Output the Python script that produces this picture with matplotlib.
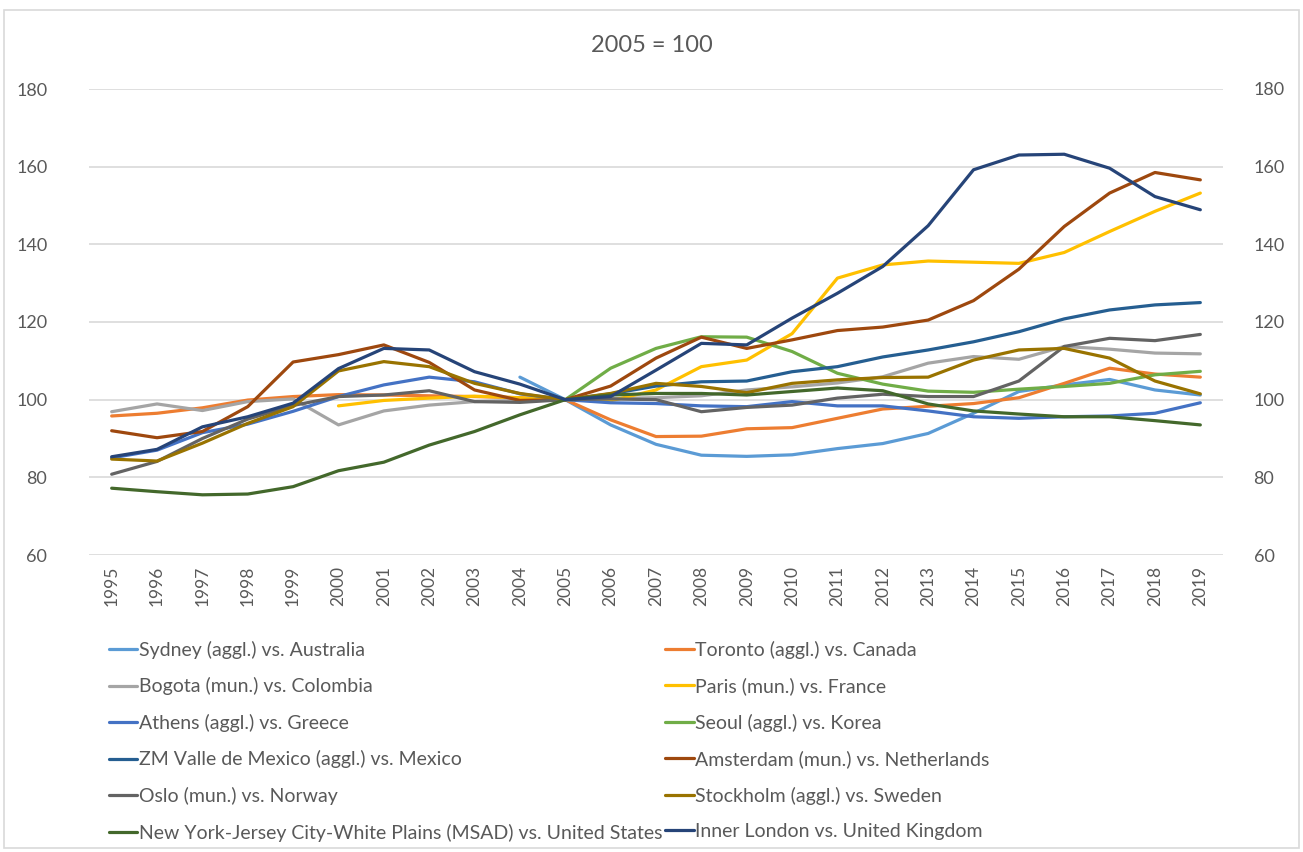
import matplotlib
matplotlib.use("Agg")
import matplotlib.pyplot as plt
from matplotlib.patches import Rectangle
import numpy as np

nan = np.nan
years = [str(y) for y in range(1995, 2020)]

sydney = [nan] * 9 + [105.8, 100, 93.5, 88.5, 85.7, 85.4, 85.8, 87.4, 88.7, 91.3,
                      96.5, 102.1, 103.8, 105.2, 102.5, 101.2]
toronto = [95.8, 96.5, 97.9, 99.9, 100.8, 101.3, 101.2, 101.0, 100.8, 100.5, 100,
           94.8, 90.5, 90.6, 92.5, 92.8, 95.2, 97.6, 98.3, 99.0, 100.5, 104.2, 108.1, 106.6, 105.8]
bogota = [96.9, 98.9, 97.2, 99.5, 100.2, 93.5, 97.1, 98.6, 99.5, 99.8, 100,
          100.3, 100.5, 101.0, 102.5, 103.3, 104.3, 105.9, 109.4, 111.1, 110.4, 113.7, 113.0, 112.0, 111.8]
paris = [nan] * 5 + [98.4, 99.8, 100.4, 100.9, 100.5, 100,
                     99.7, 102.5, 108.5, 110.2, 117.0, 131.3, 134.7, 135.7, 135.4, 135.1, 137.9, 143.3, 148.5, 153.2]
athens = [85.0, 87.0, 91.5, 93.7, 97.0, 100.8, 103.8, 105.8, 104.6, 101.5, 100,
          99.2, 99.0, 98.4, 98.2, 99.5, 98.4, 98.4, 97.1, 95.6, 95.2, 95.6, 95.8, 96.5, 99.2]
seoul = [nan] * 10 + [100, 108.1, 113.2, 116.2, 116.1, 112.4, 106.8, 104.0, 102.2, 101.9,
                      102.7, 103.4, 104.2, 106.4, 107.3]
mexico = [nan] * 10 + [100, 101.5, 103.5, 104.6, 104.8, 107.2, 108.5, 111.0, 112.8, 114.9,
                       117.5, 120.8, 123.1, 124.4, 125.0]
amsterdam = [92.0, 90.2, 91.8, 98.2, 109.7, 111.6, 114.1, 109.6, 102.5, 99.8, 100,
             103.5, 110.7, 116.1, 113.2, 115.4, 117.8, 118.7, 120.5, 125.5, 133.6, 144.6, 153.2, 158.5, 156.6]
oslo = [80.8, 84.1, 90.0, 95.0, 98.5, 100.8, 101.2, 102.3, 99.5, 99.3, 100,
        100.2, 100.0, 96.9, 98.0, 98.6, 100.4, 101.4, 100.8, 100.8, 104.8, 113.7, 115.8, 115.2, 116.8]
stockholm = [84.7, 84.2, 88.8, 93.9, 98.2, 107.4, 109.8, 108.5, 104.2, 101.6, 100,
             101.6, 104.2, 103.4, 101.8, 104.2, 105.1, 105.7, 105.8, 110.2, 112.8, 113.2, 110.7, 104.8, 101.5]
new_york = [77.2, 76.3, 75.5, 75.7, 77.6, 81.7, 83.9, 88.3, 91.8, 96.1, 100,
            101.2, 101.6, 101.6, 101.2, 102.1, 103.0, 102.3, 98.9, 97.1, 96.3, 95.6, 95.6, 94.6, 93.5]
london = [85.3, 87.2, 93.0, 95.6, 99.1, 108.0, 113.2, 112.8, 107.2, 104.0, 100,
          100.8, 107.6, 114.5, 114.1, 121.0, 127.4, 134.3, 144.8, 159.2, 163.0, 163.2, 159.6, 152.3, 148.9]

series = [
    ("Sydney (aggl.) vs. Australia", sydney, "#5B9BD5"),
    ("Toronto (aggl.) vs. Canada", toronto, "#ED7D31"),
    ("Bogota (mun.) vs. Colombia", bogota, "#A5A5A5"),
    ("Paris (mun.) vs. France", paris, "#FFC000"),
    ("Athens (aggl.) vs. Greece", athens, "#4472C4"),
    ("Seoul (aggl.) vs. Korea", seoul, "#70AD47"),
    ("ZM Valle de Mexico (aggl.) vs. Mexico", mexico, "#255E91"),
    ("Amsterdam (mun.) vs. Netherlands", amsterdam, "#9E480E"),
    ("Oslo (mun.) vs. Norway", oslo, "#636363"),
    ("Stockholm (aggl.) vs. Sweden", stockholm, "#997300"),
    ("New York-Jersey City-White Plains (MSAD) vs. United States", new_york, "#43682B"),
    ("Inner London vs. United Kingdom", london, "#264478"),
]

plt.rcParams['font.family'] = ['Lato', 'DejaVu Sans']
txt = "#595959"

fig = plt.figure(figsize=(13.03, 8.52), dpi=100)
fig.patches.append(Rectangle((4 / 1303, 4 / 852), 1295 / 1303, 838 / 852,
                             transform=fig.transFigure, fill=False,
                             edgecolor="#D9D9D9", linewidth=1.2))

ax = fig.add_axes([89 / 1303, 297 / 852, 1134 / 1303, 466 / 852])
x = np.arange(len(years))
handles = []
for label, vals, col in series:
    h, = ax.plot(x, vals, color=col, linewidth=2.3, label=label, solid_capstyle='round')
    handles.append(h)

ax.set_xlim(-0.5, len(years) - 0.5)
ax.set_ylim(60, 180)
ax.set_yticks(range(60, 181, 20))
ax.set_xticks(x)
ax.set_xticklabels(years, rotation=90, fontsize=12.5, color=txt)
ax.grid(axis='y', color="#D9D9D9", linewidth=1.2)
ax.set_axisbelow(True)
for s in ax.spines.values():
    s.set_visible(False)
ax.tick_params(axis='both', length=0, labelsize=13, labelcolor=txt)
ax.tick_params(axis='x', pad=8, labelsize=12.5)
ax.tick_params(axis='y', pad=30)

ax2 = ax.twinx()
ax2.set_ylim(60, 180)
ax2.set_yticks(range(60, 181, 20))
for s in ax2.spines.values():
    s.set_visible(False)
ax2.tick_params(axis='y', length=0, labelsize=13, labelcolor=txt, pad=22)

fig.text(0.5, 1 - 45 / 852, "2005 = 100", ha='center', va='center', fontsize=17, color=txt)

order = [0, 2, 4, 6, 8, 10, 1, 3, 5, 7, 9, 11]
leg = fig.legend([handles[i] for i in order], [series[i][0] for i in order],
                 ncol=2, loc='upper left', bbox_to_anchor=(101 / 1303, 1 - 633 / 852),
                 frameon=False, fontsize=14, handlelength=1.45, handletextpad=0.1,
                 columnspacing=0.15, labelspacing=0.95, borderaxespad=0)
for t in leg.get_texts():
    t.set_color(txt)

fig.savefig("out.png", dpi=100)
